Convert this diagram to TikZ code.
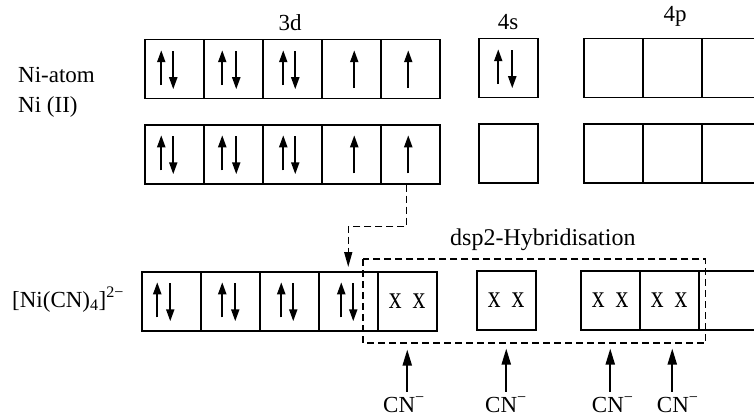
\documentclass[tikz,border=0pt]{standalone}
\usepackage{fontspec}
\setmainfont{Liberation Serif}
\newfontfamily\crossfont{Liberation Serif}[FakeStretch=0.8]
\usetikzlibrary{arrows.meta}

\tikzset{
  orb/.style={draw, line width=1.5pt, minimum width=59pt, minimum height=59pt,
    inner sep=0pt, anchor=north west, font=\crossfont\fontsize{32}{32}\selectfont},
  spin/.style={line width=2pt, -{Triangle[length=12pt,width=8pt]}},
  donor/.style={line width=2pt, -{Triangle[length=16pt,width=9pt]}, shorten <=5pt, shorten >=18pt},
  promote/.style={line width=1.5pt, dash pattern=on 7pt off 4pt, -{Triangle[length=15pt,width=8pt]}},
  hyb/.style={line width=1.5pt, dash pattern=on 7pt off 4pt},
  lbl/.style={inner sep=0pt, font=\fontsize{23}{26}\selectfont},
}

% electron pair: node, x offset of the up spin, x offset of the down spin
\newcommand\paired[3]{%
  \draw[spin] ([xshift=#2pt,yshift=-16pt]#1.center) -- ([xshift=#2pt,yshift=19pt]#1.center);
  \draw[spin] ([xshift=#3pt,yshift=18pt]#1.center) -- ([xshift=#3pt,yshift=-20pt]#1.center);}
% single unpaired electron: node, x offset
\newcommand\lone[2]{%
  \draw[spin] ([xshift=#2pt,yshift=-19pt]#1.center) -- ([xshift=#2pt,yshift=19pt]#1.center);}

\begin{document}
\begin{tikzpicture}[x=1pt, y=-1pt]
\clip (0,0) rectangle (754,417);
\useasboundingbox (0,0) rectangle (754,417);

% shell labels
\node[lbl, anchor=base] (t3d) at (290,31) {3d};
\node[lbl, anchor=base] (t4s) at (508,30) {4s};
\node[lbl, anchor=base] (t4p) at (675,22) {4p};
\node[lbl, anchor=base west] (latom) at (18,83) {Ni-atom};
\node[lbl, anchor=base west] (lion) at (18,113) {Ni (II)};
\node[lbl, anchor=base west] (lcplx) at (12,307) {[Ni(CN)\textsubscript{4}]\textsuperscript{2−}};

% Ni atom: 3d8 4s2
\node[orb] (a1) at (144,39) {};
\node[orb] (a2) at (203,39) {};
\node[orb] (a3) at (262,39) {};
\node[orb] (a4) at (321,39) {};
\node[orb] (a5) at (380,39) {};
\node[orb] (as) at (478,38) {};
\node[orb] (ap1) at (583,38) {};
\node[orb] (ap2) at (642,38) {};
\node[orb] (ap3) at (701,38) {};
\paired{a1}{-13}{-1}
\paired{a2}{-11}{3}
\paired{a3}{-9}{3}
\lone{a4}{3}
\lone{a5}{-2}
\paired{as}{-10}{4}

% Ni(II): 3d8 4s0
\node[orb] (b1) at (144,124) {};
\node[orb] (b2) at (203,124) {};
\node[orb] (b3) at (262,124) {};
\node[orb] (b4) at (321,124) {};
\node[orb] (b5) at (380,124) {};
\node[orb] (bs) at (478,123) {};
\node[orb] (bp1) at (583,123) {};
\node[orb] (bp2) at (642,123) {};
\node[orb] (bp3) at (701,123) {};
\paired{b1}{-13}{-1}
\paired{b2}{-11}{3}
\paired{b3}{-9}{3}
\lone{b4}{3}
\lone{b5}{-2}

% [Ni(CN)4]2-: pairing in 3d, dsp2 set filled by ligands
\node[orb] (c1) at (141,271) {};
\node[orb] (c2) at (200,271) {};
\node[orb] (c3) at (259,271) {};
\node[orb] (c4) at (318,271) {};
\node[orb] (c5) at (377,271) {x\hspace{11pt}x};
\node[orb] (cs) at (476,270) {x\hspace{11pt}x};
\node[orb] (cp1) at (580,270) {x\hspace{11pt}x};
\node[orb] (cp2) at (639,270) {x\hspace{11pt}x};
\node[orb] (cp3) at (698,270) {};
\paired{c1}{-14}{-1}
\paired{c2}{-8}{5}
\paired{c3}{-8}{4}
\paired{c4}{-7}{5}

% electron moved into the fourth 3d orbital
\draw[promote] ([xshift=-4pt]b5.south) -- ++(0,42) -| ([yshift=4pt]c4.north);

% hybrid orbital set
\draw[hyb] (363,259) rectangle (705.7,343);
\node[lbl, anchor=base west, font=\fontsize{24}{27}\selectfont] (lhyb) at (450,245) {dsp2-Hybridisation};

% cyanide ligands donating into the hybrid orbitals
\node[lbl, anchor=base west] (cn1) at (383,412) {CN\textsuperscript{−}};
\node[lbl, anchor=base west] (cn2) at (485,412) {CN\textsuperscript{−}};
\node[lbl, anchor=base west] (cn3) at (591.7,412) {CN\textsuperscript{−}};
\node[lbl, anchor=base west] (cn4) at (656.7,412) {CN\textsuperscript{−}};
\draw[donor] (cn1.north -| c5.south) -- (c5.south);
\draw[donor] (cn2.north -| cs.south) -- (cs.south);
\draw[donor] (cn3.north -| cp1.south) -- (cp1.south);
\draw[donor] ([xshift=3pt]cn4.north -| cp2.south) -- ([xshift=3pt]cp2.south);
\end{tikzpicture}
\end{document}
